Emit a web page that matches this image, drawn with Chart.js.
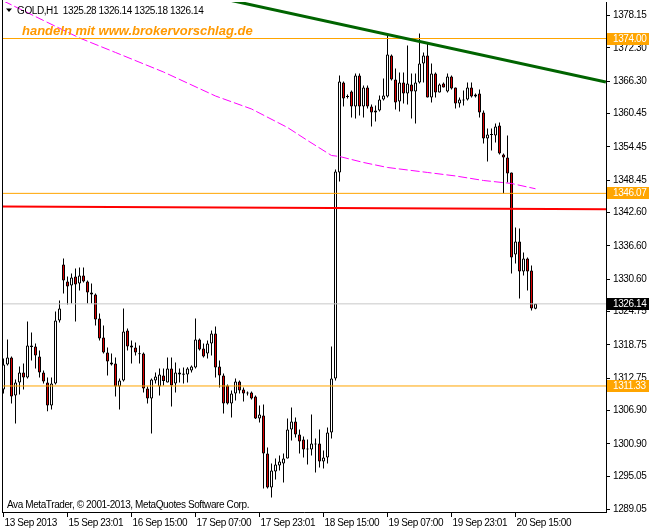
<!DOCTYPE html>
<html><head><meta charset="utf-8">
<script src="https://cdn.jsdelivr.net/npm/chart.js@4.4.0/dist/chart.umd.min.js"></script>
<style>html,body{margin:0;padding:0;background:#fff;}canvas{display:block;}</style>
</head><body>
<canvas id="c" width="649" height="531"></canvas>
<script>
// ---- data (GOLD, H1) ----
const openP = [
1310.70,1315.21,1316.47,1309.61,1311.96,1313.76,1312.86,1318.64,1318.46,1316.65,
1313.76,1311.96,1307.81,1311.78,1323.15,1333.24,1330.18,1329.46,1331.08,1329.82,
1331.26,1330.18,1328.19,1327.83,1323.51,1320.08,1317.38,1315.57,1315.39,1311.24,
1312.32,1321.34,1318.64,1318.28,1317.20,1317.20,1310.88,1309.07,1312.32,1311.24,
1313.22,1311.96,1314.49,1311.78,1313.76,1313.58,1313.40,1314.13,1314.67,1319.72,
1318.10,1317.20,1319.00,1320.80,1314.85,1313.22,1311.42,1308.17,1309.97,1312.14,
1310.70,1310.15,1310.15,1309.43,1305.46,1306.01,1299.15,1293.02,1295.91,1296.99,
1297.35,1298.25,1303.48,1304.92,1302.58,1301.68,1300.06,1299.87,1300.96,1300.96,
1297.71,1298.43,1302.94,1312.68,1349.84,1366.07,1363.54,1364.45,1361.74,1367.33,
1361.74,1365.17,1361.74,1361.02,1361.02,1363.00,1363.54,1370.94,1366.61,1362.64,
1366.07,1364.09,1365.71,1364.45,1366.07,1369.50,1370.94,1363.36,1367.69,1364.27,
1365.89,1364.45,1367.15,1365.17,1362.28,1362.82,1363.00,1365.17,1363.54,1364.09,
1360.66,1355.97,1356.60,1356.51,1358.31,1353.08,1352.54,1349.84,1335.05,1337.39,
1331.98,1334.32,1332.16,1325.28];
const highP = [
1316.29,1319.72,1316.65,1312.50,1314.85,1315.39,1322.97,1320.98,1319.00,1317.74,
1314.13,1312.86,1312.86,1324.77,1326.75,1334.32,1331.08,1331.62,1332.52,1332.70,
1332.70,1330.36,1329.82,1328.01,1324.41,1322.25,1318.28,1317.20,1316.47,1312.68,
1325.31,1321.70,1319.54,1319.18,1318.64,1317.38,1311.24,1312.68,1313.76,1314.49,
1314.49,1316.47,1316.47,1315.57,1314.49,1314.67,1314.72,1315.03,1323.51,1319.90,
1319.00,1319.54,1321.34,1322.07,1315.93,1313.58,1311.60,1310.52,1312.68,1312.32,
1311.06,1310.33,1310.33,1309.61,1307.81,1307.99,1300.24,1297.35,1298.25,1298.79,
1299.15,1305.46,1307.45,1305.64,1303.48,1302.22,1301.68,1306.19,1301.86,1303.48,
1299.69,1303.84,1318.46,1350.38,1367.33,1366.25,1363.91,1364.63,1367.69,1367.69,
1365.53,1365.53,1362.10,1361.92,1363.72,1366.79,1374.91,1371.12,1368.59,1367.87,
1367.87,1372.74,1367.69,1367.69,1374.91,1371.48,1373.10,1369.50,1367.87,1365.89,
1366.07,1367.69,1367.33,1365.17,1363.36,1364.63,1366.07,1366.07,1364.09,1364.81,
1361.02,1357.77,1357.77,1358.67,1358.86,1353.26,1356.51,1349.84,1339.92,1339.74,
1335.41,1334.50,1333.06,1326.14];
const lowP = [
1309.97,1315.03,1308.17,1304.56,1309.79,1310.70,1312.68,1315.93,1314.49,1312.86,
1311.78,1306.78,1307.09,1311.60,1322.79,1328.01,1326.03,1326.21,1322.97,1328.55,
1330.00,1326.21,1326.21,1322.25,1319.54,1317.20,1313.22,1315.03,1309.43,1307.09,
1312.14,1317.74,1315.39,1316.83,1315.39,1310.15,1308.17,1302.76,1311.78,1309.61,
1311.42,1311.96,1307.63,1310.15,1311.96,1311.78,1311.96,1313.76,1314.49,1317.74,
1316.47,1316.29,1316.83,1312.86,1311.06,1306.37,1307.99,1305.64,1308.71,1309.97,
1308.53,1309.61,1308.89,1305.37,1304.74,1292.84,1292.84,1291.22,1294.47,1296.09,
1293.93,1298.25,1301.50,1302.04,1299.15,1298.43,1297.17,1298.79,1295.73,1296.63,
1296.45,1297.35,1301.86,1312.32,1348.21,1361.74,1363.18,1359.76,1359.58,1360.12,
1359.76,1361.38,1358.13,1359.04,1360.84,1362.82,1363.36,1366.43,1361.20,1360.84,
1362.28,1362.10,1359.58,1358.67,1365.89,1366.07,1363.36,1362.46,1363.36,1364.27,
1365.17,1364.27,1364.81,1361.38,1361.56,1361.92,1362.82,1363.36,1363.36,1359.76,
1355.07,1351.82,1353.80,1355.25,1353.08,1346.05,1348.03,1331.62,1333.42,1327.11,
1331.26,1328.55,1324.95,1325.18];
const closeP = [
1315.21,1316.47,1309.43,1311.96,1313.76,1312.86,1318.64,1318.37,1316.83,1313.76,
1312.14,1307.81,1311.78,1323.15,1325.31,1330.36,1329.28,1330.90,1329.64,1331.26,
1330.18,1328.19,1327.83,1323.33,1319.90,1317.38,1315.75,1315.21,1311.24,1312.32,
1321.16,1318.46,1318.28,1317.38,1317.07,1310.88,1309.07,1312.50,1313.04,1313.40,
1312.23,1314.49,1311.42,1313.76,1313.40,1313.35,1314.49,1314.85,1319.72,1317.92,
1316.65,1319.00,1320.80,1314.67,1313.22,1308.17,1308.17,1309.97,1312.14,1310.52,
1309.97,1309.97,1309.07,1305.46,1306.19,1299.15,1293.02,1296.09,1297.17,1297.71,
1298.25,1303.48,1304.92,1302.58,1301.32,1299.87,1299.87,1300.96,1300.78,1297.71,
1298.43,1302.94,1312.68,1350.02,1366.25,1363.18,1363.45,1361.74,1367.33,1361.74,
1365.17,1361.74,1360.66,1360.66,1363.00,1363.72,1371.12,1366.61,1362.46,1366.07,
1364.09,1365.89,1364.45,1366.07,1369.50,1370.94,1363.36,1367.69,1364.27,1365.71,
1365.17,1367.15,1364.99,1362.28,1363.00,1363.00,1365.17,1363.54,1363.91,1360.66,
1355.97,1356.69,1356.69,1358.13,1353.26,1352.54,1349.66,1334.50,1337.39,1331.98,
1334.32,1331.98,1325.31,1326.14];

// moving average (magenta) read at a few candle positions
const maIndex  = [0, 10, 19, 28, 40, 53, 62, 71, 76, 82, 84, 90, 96, 106, 113, 120, 127, 133];
const maValues = [1380.77, 1377.25, 1374.10, 1371.48, 1367.96, 1363.63, 1361.29, 1357.95, 1355.61,
                  1352.90, 1352.72, 1351.64, 1350.74, 1349.84, 1349.21, 1348.39, 1347.85, 1346.90];

// drawn objects
const trendIndex  = [55, 150.6];
const trendValues = [1381.16, 1366.15];
const redIndex    = [-0.375, 150.625];
const redValues   = [1343.70, 1343.20];
const levelLines  = [1374.00, 1346.07, 1311.33];
const bidPrice    = 1326.14;

// axes
const yTickValues = [1378.15, 1372.30, 1366.30, 1360.45, 1354.45, 1348.45, 1342.60, 1336.60,
                     1330.60, 1324.75, 1318.75, 1312.75, 1306.90, 1300.90, 1295.05, 1289.05];
const timeTickIndex = [0, 16, 32, 48, 64, 80, 96, 112, 128];
const timeLabels = ["13 Sep 2013", "15 Sep 23:01", "16 Sep 15:00", "17 Sep 07:00", "17 Sep 23:01",
                    "18 Sep 15:00", "19 Sep 07:00", "19 Sep 23:01", "20 Sep 15:00"];

const headerText = "GOLD,H1  1325.28 1326.14 1325.18 1326.14";
const promoText  = "handeln mit www.brokervorschlag.de";
const footerText = "Ava MetaTrader, \u00A9 2001-2013, MetaQuotes Software Corp.";

// ---- view ----
const X_MIN = -0.375, X_MAX = 150.625;
const Y_MIN = 1288.599, Y_MAX = 1380.585;
const FONT = "'Liberation Sans',Arial,sans-serif";
const axisFont = {family: FONT, size: 10};
const TIGHT = '-0.4px';

const idx = openP.map((_, i) => i);
const wickData = idx.map(i => ({x: i, y: [lowP[i], highP[i]]}));
const bodyData = idx.map(i => ({x: i, y: [openP[i], closeP[i]]}));
const bodyColors = idx.map(i => closeP[i] >= openP[i] ? '#ffffff' : '#dd0000');

function seg(xs, ys) { return xs.map((x, k) => ({x: x, y: ys[k]})); }
function lineDs(data, color, width, order, extra) {
  return Object.assign({type: 'line', data: data, borderColor: color, borderWidth: width,
    pointRadius: 0, tension: 0, fill: false, order: order}, extra || {});
}

const datasets = [
  {type: 'bar', data: wickData, backgroundColor: '#000', borderWidth: 0, barThickness: 1,
   grouped: false, inflateAmount: 0, order: 20},
  {type: 'bar', data: bodyData, backgroundColor: bodyColors, borderColor: '#000', borderWidth: 1,
   borderSkipped: false, barThickness: 3, minBarLength: 1, grouped: false, inflateAmount: 0, order: 19},
  lineDs(seg(maIndex, maValues), '#ff00ff', 1, 15, {borderDash: [9, 3]}),
  lineDs(seg([X_MIN, X_MAX], [bidPrice, bidPrice]), '#c8c8c8', 1, 14),
];
levelLines.forEach(v => datasets.push(lineDs(seg([X_MIN, X_MAX], [v, v]), '#ffa500', 1, 10)));
datasets.push(lineDs(seg(redIndex, redValues), '#ff0000', 2, 8));
datasets.push(lineDs(seg(trendIndex, trendValues), '#006400', 3, 7));

const overlay = {
  id: 'overlay',
  beforeDraw(chart) {
    chart.ctx.letterSpacing = TIGHT;
  },
  afterDraw(chart) {
    const {ctx, chartArea, scales: {y}} = chart;
    ctx.save();
    ctx.letterSpacing = TIGHT;
    // left frame line
    ctx.fillStyle = '#000';
    ctx.fillRect(2, 0, 1, chartArea.bottom + 1);
    // header triangle + text
    ctx.beginPath(); ctx.moveTo(6, 8.5); ctx.lineTo(12, 8.5); ctx.lineTo(9, 12); ctx.closePath(); ctx.fill();
    ctx.font = "10px " + FONT; ctx.textBaseline = 'middle'; ctx.textAlign = 'left';
    ctx.fillText(headerText, 17, 11);
    // footer
    ctx.fillText(footerText, 7, 505);
    // price label boxes
    const boxes = levelLines.map(v => [v, '#ffa500']).concat([[bidPrice, '#000000']]);
    boxes.forEach(([v, c]) => {
      const py = Math.round(y.getPixelForValue(v));
      ctx.fillStyle = c;
      ctx.fillRect(607, py - 6, 42, 12);
      ctx.fillStyle = '#fff';
      ctx.fillText(v.toFixed(2), 613, py);
    });
    // promo text
    ctx.letterSpacing = '0px';
    ctx.font = "italic bold 13px 'Liberation Sans',sans-serif";
    ctx.fillStyle = '#ff9900';
    ctx.fillText(promoText, 22, 31.5);
    ctx.restore();
  }
};

new Chart(document.getElementById('c'), {
  type: 'bar',
  data: {datasets: datasets},
  options: {
    responsive: false, animation: false, events: [],
    layout: {padding: {left: 2, top: 2, right: 0, bottom: 0}},
    plugins: {legend: {display: false}, tooltip: {enabled: false}},
    scales: {
      x: {
        type: 'linear', min: X_MIN, max: X_MAX, offset: false,
        afterBuildTicks: s => { s.ticks = timeTickIndex.map(v => ({value: v})); },
        afterFit: s => { s.height = 19; s.paddingLeft = 0; s.paddingRight = 0; },
        ticks: {autoSkip: false, maxRotation: 0, minRotation: 0, align: 'start', labelOffset: 1,
                padding: 0, color: '#000', font: axisFont, callback: (v, i) => timeLabels[i]},
        grid: {offset: false, drawOnChartArea: false, drawTicks: true, tickLength: 5, tickColor: '#000'},
        border: {display: true, color: '#000', width: 1}
      },
      y: {
        type: 'linear', position: 'right', min: Y_MIN, max: Y_MAX, beginAtZero: false,
        afterBuildTicks: s => { s.ticks = yTickValues.map(v => ({value: v})); },
        afterFit: s => { s.width = 43; s.paddingTop = 0; s.paddingBottom = 0; },
        ticks: {autoSkip: false, padding: 3, color: '#000', font: axisFont,
                callback: v => Number(v).toFixed(2)},
        grid: {drawOnChartArea: false, drawTicks: true, tickLength: 4, tickColor: '#000'},
        border: {display: true, color: '#000', width: 1}
      }
    }
  },
  plugins: [overlay]
});
</script>
</body></html>
